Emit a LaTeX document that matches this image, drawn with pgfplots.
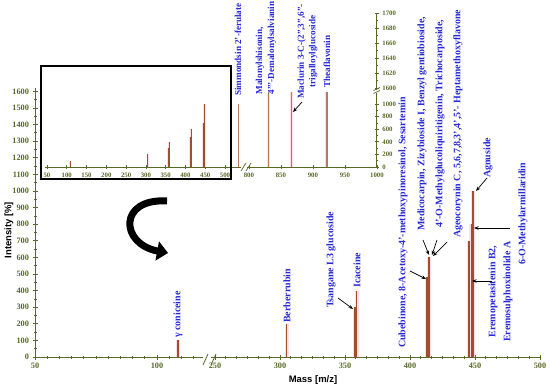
\documentclass[border=0pt]{standalone}
\usepackage{fontspec}
\setmainfont{Liberation Serif}
\newfontfamily\sansf{Liberation Sans}
\usepackage{pgfplots}
\pgfplotsset{compat=1.18}
\usetikzlibrary{arrows.meta}

\definecolor{axcol}{RGB}{88,105,38}
\definecolor{peak}{RGB}{160,78,45}
\definecolor{peaklt}{RGB}{185,120,100}
\definecolor{halo}{RGB}{255,222,230}
\definecolor{lblue}{RGB}{40,40,215}

\pgfplotsset{
  brk/.style={scale only axis, enlargelimits=false, clip=true,
    axis line style={axcol, line width=0.9bp},
    tick style={axcol, line width=0.7bp}, tick align=center,
    major tick length=5bp, minor tick length=3bp,
    ticklabel style={text=axcol, font=\fontsize{8.3}{9}\selectfont\bfseries},
    /pgf/number format/assume math mode=true, scaled ticks=false,
    /pgf/number format/1000 sep={}},
  small/.style={ticklabel style={font=\fontsize{6.8}{7}\selectfont\bfseries},
    major tick length=4bp, minor tick length=2.5bp},
}

\pgfplotstableread{
x y
108.6 100
305 200
357.7 300
359 400
413 480
414.6 600
445.4 700
447 800
448.5 1000
}\peaks

\begin{document}
\begin{tikzpicture}[x=1bp,y=1bp,
  lbl/.style={rotate=90, text=lblue, font=\fontsize{10}{11}\selectfont\bfseries, inner sep=0pt, anchor=west},
  arr/.style={black, line width=0.7bp, -{Stealth[length=4.5bp,width=3.5bp]}}]

% ---- main chart, left segment
\begin{axis}[brk, at={(35bp,33bp)}, anchor=south west, width=168.4bp, height=269bp,
  xmin=50, xmax=119, ymin=0, ymax=1620,
  axis x line*=bottom, axis y line*=left,
  xtick={50,100}, minor xtick={55,60,...,115},
  ytick={0,100,...,1600}, minor ytick={50,150,...,1550}]
\addplot[ycomb, halo, line width=4bp] coordinates {(108.6,100)};
\addplot[ycomb, peak, line width=1.2bp] coordinates {(108.6,100)};
\end{axis}

% ---- main chart, right segment
\begin{axis}[brk, at={(211.1bp,33bp)}, anchor=south west, width=328.9bp, height=269bp,
  xmin=247, xmax=500, ymin=0, ymax=1620,
  axis x line*=bottom, axis y line=none, ytick=\empty,
  xtick={250,300,...,500}, minor tick num=5]
\addplot[ycomb, halo, line width=4bp] table[x=x,y=y] {\peaks};
\addplot[ycomb, peak, line width=1.2bp] table[x=x,y=y] {\peaks};
\end{axis}

% ---- overview, left segment
\begin{axis}[brk, small, at={(45bp,223bp)}, anchor=south west, width=195.8bp, height=69.3bp,
  xmin=45, xmax=540, ymin=0, ymax=1100,
  axis x line*=bottom, axis y line=none, ytick=\empty,
  xtick={50,100,...,500}]
\addplot[ycomb, halo, line width=2.5bp] table[x=x,y=y] {\peaks};
\addplot[ycomb, peak, line width=1bp] table[x=x,y=y] {\peaks};
\addplot[ycomb, peaklt, line width=1bp] coordinates {(533,1000)};
\end{axis}

% ---- overview, right segment, lower
\begin{axis}[brk, small, at={(247bp,223bp)}, anchor=south west, width=129.9bp, height=74.3bp,
  xmin=797, xmax=1000, ymin=0, ymax=1180,
  axis x line*=bottom, axis y line*=right,
  xtick={800,850,...,1000},
  ytick={0,200,...,1000}, minor ytick={100,300,...,900}]
\addplot[ycomb, halo, line width=3bp] coordinates {(831,1600) (867,1600) (922,1600)};
\addplot[ycomb, peaklt, line width=1.1bp] coordinates {(831,1600) (867,1600) (922,1600)};
\end{axis}

% ---- overview, right segment, upper
\begin{axis}[brk, small, at={(247bp,299.75bp)}, anchor=south west, width=129.9bp, height=77.25bp,
  xmin=797, xmax=1000, ymin=1597, ymax=1700,
  axis x line=none, axis y line*=right, xtick=\empty,
  ytick={1600,1620,...,1700}, minor ytick={1610,1630,...,1690}]
\end{axis}

% breaks
\draw[axcol, line width=0.8bp] (203,25) -- (208,36) (211,25) -- (216,36);
\draw[axcol, line width=0.7bp] (241,219) -- (246,227) (246,219) -- (251,227);
\draw[axcol, line width=0.7bp] (373.5,296.5) -- (380,299.5) (373.5,299.5) -- (380,302.5);

% inset frame
\draw[black, line width=1.2bp] (41,211) rectangle (231,324);

% curved arrow
\draw[black, line width=7bp, -{Triangle[length=11bp,width=19bp]}]
  (167,189) .. controls (118,192) and (120,146) .. (168,137);

% axis titles
\node[rotate=90, font=\sansf\bfseries\fontsize{9.5}{11}\selectfont] at (9,160) {Intensity [\%]};
\node[font=\sansf\bfseries\fontsize{9.5}{11}\selectfont] at (313,10) {Mass [m/z]};

% peak labels
\node[lbl] at (178,52) {γ coniceine};
\node[lbl] at (287,67) {Berberrubin};
\node[lbl] at (331,82) {Tsangane L3 glucoside};
\node[lbl] at (357,102) {Icaceine};
\node[lbl] at (403,42) {Cubebinone, 8-Acetoxy-4'-methoxypinoresinol, Sesartemin};
\node[lbl, align=center, font=\fontsize{10}{18}\selectfont\bfseries] at (440,152)
  {Medicocarpin, Zizybioside I, Benzyl gentiobioside,\\4'-O-Methylglucoliquiritigenin, Trichocarposide,\\Ageocorynin C, 5,6,7,8,3',4',5'- Heptamethoxyflavone};
\node[lbl] at (488,212) {Agnuside};
\node[lbl, align=center, font=\fontsize{10}{15}\selectfont\bfseries] at (500.5,48)
  {Eremopetasitenin B2,\\Eremosulphoxinolide A};
\node[lbl] at (523,125) {6-O-Methylarmillaridin};
\node[lbl, font=\fontsize{9.2}{10}\selectfont\bfseries] at (238,294) {Simmondsin 2'-ferulate};
\node[lbl, align=left, font=\fontsize{9.2}{12}\selectfont\bfseries] at (266,295.5)
  {Malonylshisonin,\\4'''-Demalonylsalvianin};
\node[lbl, align=center, font=\fontsize{9.2}{11.5}\selectfont\bfseries] at (307.5,291)
  {Maclurin 3-C-(2'',3'',6''-\\trigalloylglucoside};
\node[lbl, font=\fontsize{9.2}{10}\selectfont\bfseries] at (327,302) {Theaflavonin};

% annotation arrows
\draw[arr] (338,92) -- (353,81);
\draw[arr] (410,119) -- (426,111);
\draw[arr] (423,150) -- (429,135);
\draw[arr] (437,150) -- (432,135);
\draw[arr] (447,148) -- (433,134);
\draw[arr] (487,212) -- (476,199);
\draw[arr] (510,162) -- (474,162);
\draw[arr] (492,109) -- (472,109);
\draw[arr] (302,288) -- (293,278);

\pgfresetboundingbox
\path[use as bounding box] (0,0) rectangle (550,390);
\end{tikzpicture}
\end{document}
